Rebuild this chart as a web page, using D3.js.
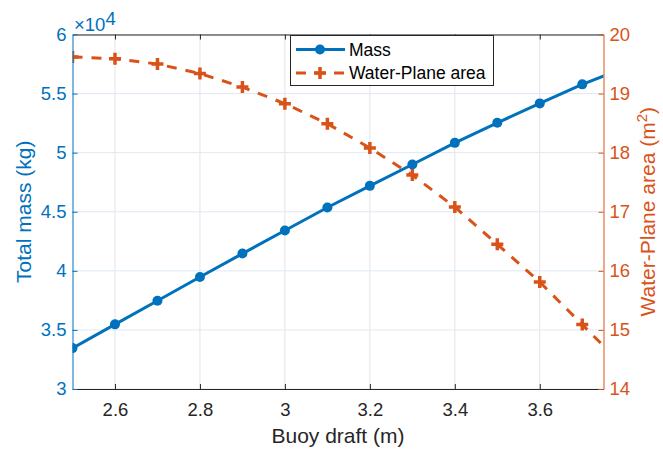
<!DOCTYPE html>
<html><head><meta charset="utf-8">
<script src="https://cdn.jsdelivr.net/npm/d3@7"></script>
<style>
body{margin:0;background:#fff;}
svg{display:block;font-family:"Liberation Sans",Arial,Helvetica,sans-serif;}
</style></head>
<body><svg id="c" width="663" height="451"></svg>
<script>
// Data
const draft = [2.5,2.6,2.7,2.8,2.9,3.0,3.1,3.2,3.3,3.4,3.5,3.6,3.7,3.8];
const massE4 = [3.346,3.547,3.747,3.948,4.146,4.341,4.536,4.719,4.900,5.083,5.253,5.417,5.578,5.72];
const wpArea = [19.62,19.59,19.50,19.34,19.11,18.83,18.49,18.08,17.62,17.08,16.45,15.81,15.09,14.37];
const xTicks = [2.6,2.8,3.0,3.2,3.4,3.6];
const xTickLabels = ["2.6","2.8","3","3.2","3.4","3.6"];
const yLeftTicks = [3,3.5,4,4.5,5,5.5,6];
const yLeftTickLabels = ["3","3.5","4","4.5","5","5.5","6"];
const yRightTicks = [14,15,16,17,18,19,20];
const seriesNames = ["Mass","Water-Plane area"];

const BLUE="#0072BD", ORANGE="#D95319", DARK="#262626";
const L=72.5, R=603.5, T=34.5, B=389;
const svg=d3.select("#c");
const x=d3.scaleLinear().domain([2.5,3.75]).range([L,R]);
const yL=d3.scaleLinear().domain([3,6]).range([B,T]);
const yR=d3.scaleLinear().domain([14,20]).range([B,T]);

// grid
const g=svg.append("g");
g.selectAll(".vg").data(xTicks).join("line").attr("x1",d=>x(d)).attr("x2",d=>x(d)).attr("y1",T).attr("y2",B)
 .attr("stroke","#e3e3e3").attr("stroke-width",1);
g.selectAll(".hg").data(yLeftTicks).join("line").attr("y1",d=>yL(d)).attr("y2",d=>yL(d)).attr("x1",L).attr("x2",R)
 .attr("stroke","#dde9f4").attr("stroke-width",1);

svg.append("defs").append("clipPath").attr("id","clip").append("rect").attr("x",L).attr("y",T).attr("width",R-L).attr("height",B-T);
const pg=svg.append("g").attr("clip-path","url(#clip)");

// water-plane line
const lineW=d3.line().x((d,i)=>x(draft[i])).y(d=>yR(d));
pg.append("path").datum(wpArea).attr("d",lineW).attr("fill","none").attr("stroke",ORANGE).attr("stroke-width",3).attr("stroke-dasharray","10,9");
const plus=(sel,cx,cy)=>{sel.append("path").attr("d",`M${cx-6},${cy}H${cx+6}M${cx},${cy-6}V${cy+6}`).attr("stroke",ORANGE).attr("stroke-width",3.5).attr("fill","none");};
wpArea.forEach((v,i)=>plus(pg,x(draft[i]),yR(v)));

// mass line
const lineM=d3.line().x((d,i)=>x(draft[i])).y(d=>yL(d));
pg.append("path").datum(massE4).attr("d",lineM).attr("fill","none").attr("stroke",BLUE).attr("stroke-width",3);
pg.selectAll(".mk").data(massE4).join("circle").attr("cx",(d,i)=>x(draft[i])).attr("cy",d=>yL(d)).attr("r",5).attr("fill",BLUE);

// axes
const fs=18.5;
const ax=svg.append("g").attr("transform",`translate(0,${B})`).call(d3.axisBottom(x).tickValues(xTicks).tickFormat((d,i)=>xTickLabels[i]).tickSizeInner(-5).tickSizeOuter(0).tickPadding(14));
const at=svg.append("g").attr("transform",`translate(0,${T})`).call(d3.axisTop(x).tickValues(xTicks).tickFormat("").tickSizeInner(-5).tickSizeOuter(0));
[ax,at].forEach(a=>{a.select(".domain").attr("stroke",DARK);a.selectAll(".tick line").attr("stroke",DARK);});
ax.selectAll("text").attr("fill",DARK).attr("font-size",fs).attr("font-family","Liberation Sans, Arial, sans-serif");

const al=svg.append("g").attr("transform",`translate(${L},0)`).call(d3.axisLeft(yL).tickValues(yLeftTicks).tickFormat((d,i)=>yLeftTickLabels[i]).tickSizeInner(-5).tickSizeOuter(0).tickPadding(6));
al.select(".domain").attr("stroke",BLUE);al.selectAll(".tick line").attr("stroke",BLUE);
al.selectAll("text").attr("fill",BLUE).attr("font-size",fs).attr("font-family","Liberation Sans, Arial, sans-serif");

const ar=svg.append("g").attr("transform",`translate(${R},0)`).call(d3.axisRight(yR).tickValues(yRightTicks).tickFormat(d3.format("d")).tickSizeInner(-5).tickSizeOuter(0).tickPadding(6));
ar.select(".domain").attr("stroke",ORANGE);ar.selectAll(".tick line").attr("stroke",ORANGE);
ar.selectAll("text").attr("fill",ORANGE).attr("font-size",fs).attr("font-family","Liberation Sans, Arial, sans-serif");

// exponent
const ex=svg.append("text").attr("x",74).attr("y",31).attr("fill",BLUE).attr("font-size",fs);
ex.append("tspan").text("×10");
ex.append("tspan").attr("dy",-6).text("4");

// labels
svg.append("text").attr("x",(L+R)/2).attr("y",443).attr("text-anchor","middle").attr("fill",DARK).attr("font-size",21).text("Buoy draft (m)");
svg.append("text").attr("transform",`translate(31,${(T+B)/2}) rotate(-90)`).attr("text-anchor","middle").attr("fill",BLUE).attr("font-size",21).text("Total mass (kg)");
const rl=svg.append("text").attr("transform",`translate(655,${(T+B)/2}) rotate(-90)`).attr("text-anchor","middle").attr("fill",ORANGE).attr("font-size",21);
rl.append("tspan").text("Water-Plane area (m");
rl.append("tspan").attr("dy",-8).attr("font-size",15).text("2");
rl.append("tspan").attr("dy",8).text(")");

// legend
const lg=svg.append("g");
lg.append("rect").attr("x",290.5).attr("y",35.5).attr("width",203).attr("height",50).attr("fill","#fff").attr("stroke",DARK).attr("stroke-width",1);
const r1=49.5, r2=73;
lg.append("line").attr("x1",296).attr("x2",345).attr("y1",r1).attr("y2",r1).attr("stroke",BLUE).attr("stroke-width",3);
lg.append("circle").attr("cx",320).attr("cy",r1).attr("r",5).attr("fill",BLUE);
lg.append("line").attr("x1",296).attr("x2",345).attr("y1",r2).attr("y2",r2).attr("stroke",ORANGE).attr("stroke-width",3).attr("stroke-dasharray","10,9");
plus(lg,320,r2);
lg.append("text").attr("x",349).attr("y",r1).attr("dy","0.35em").attr("font-size",17.5).attr("fill","#000").text(seriesNames[0]);
lg.append("text").attr("x",349).attr("y",r2).attr("dy","0.35em").attr("font-size",17.5).attr("fill","#000").text(seriesNames[1]);
</script></body></html>
